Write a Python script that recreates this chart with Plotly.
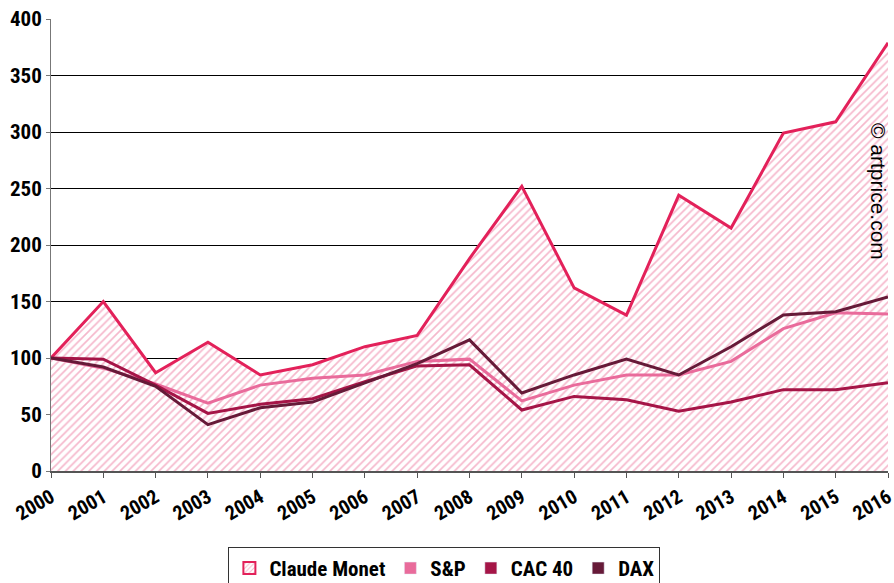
import plotly.graph_objects as go

years = list(range(2000, 2017))
monet = [100, 150, 87, 114, 85, 94, 110, 120, 188, 252, 162, 138, 244, 215, 299, 309, 379]
sp = [100, 91, 77, 60, 76, 82, 85, 97, 99, 62, 76, 85, 85, 97, 126, 140, 139]
cac = [100, 99, 76, 51, 59, 64, 79, 93, 94, 54, 66, 63, 53, 61, 72, 72, 78]
dax = [100, 92, 75, 41, 56, 61, 78, 95, 116, 69, 85, 99, 85, 110, 138, 141, 154]
yticks = [0, 50, 100, 150, 200, 250, 300, 350, 400]

C_MONET = "#e3215a"
C_HATCH = "#ec6f98"
C_SP = "#e96b9b"
C_CAC = "#a51547"
C_DAX = "#661a38"

FONT = "Liberation Sans Narrow, Roboto Condensed, Arial Narrow, Roboto, sans-serif"

fig = go.Figure()
fig.add_trace(go.Scatter(
    x=years, y=monet, mode="lines", fill="tozeroy",
    line=dict(color=C_MONET, width=3),
    fillcolor="white",
    fillpattern=dict(shape="/", fgcolor=C_HATCH, bgcolor="white", size=5.5, solidity=0.3),
    showlegend=False, name="Claude Monet"))
fig.add_trace(go.Scatter(x=years, y=sp, mode="lines", line=dict(color=C_SP, width=3), showlegend=False, name="S&P"))
fig.add_trace(go.Scatter(x=years, y=cac, mode="lines", line=dict(color=C_CAC, width=3), showlegend=False, name="CAC 40"))
fig.add_trace(go.Scatter(x=years, y=dax, mode="lines", line=dict(color=C_DAX, width=3), showlegend=False, name="DAX"))

# legend entries (square swatches)
fig.add_trace(go.Bar(x=[None], y=[None], name="Claude Monet",
                     marker=dict(color="white", line=dict(color=C_MONET, width=2),
                                 pattern=dict(shape="/", fgcolor=C_HATCH, bgcolor="white", size=4, solidity=0.3))))
fig.add_trace(go.Bar(x=[None], y=[None], name="S&P", marker=dict(color=C_SP)))
fig.add_trace(go.Bar(x=[None], y=[None], name="CAC 40", marker=dict(color=C_CAC)))
fig.add_trace(go.Bar(x=[None], y=[None], name="DAX", marker=dict(color=C_DAX)))

pw = 894 - 51 - 6
ph = 583 - 19 - 112
fig.add_annotation(x=(879 - 51) / pw, y=(471 - 191) / ph, xref="paper", yref="paper",
                   xanchor="center", yanchor="middle",
                   text="© artprice.com", showarrow=False, textangle=90,
                   font=dict(family="Liberation Sans, Arial, sans-serif", size=21, color="black"))

fig.update_layout(
    width=894, height=583,
    margin=dict(l=51, r=6, t=19, b=112, autoexpand=False),
    paper_bgcolor="white", plot_bgcolor="white",
    font=dict(family=FONT, size=20, color="black"),
    legend=dict(orientation="h", x=0.47, xanchor="center", y=-0.168, yanchor="top",
                bordercolor="#333333", borderwidth=1,
                font=dict(family=FONT, size=21, color="black", weight="bold"),
                itemwidth=30, tracegroupgap=0),
    xaxis=dict(range=[2000, 2016], tickmode="array", tickvals=years,
               ticktext=[str(y) for y in years], tickangle=-30, automargin=False,
               ticklabeloverflow="allow",
               showgrid=False, zeroline=False, showline=True, linecolor="#555555", linewidth=2,
               ticks="outside", ticklen=5, tickcolor="#555555",
               tickfont=dict(family=FONT, size=20, color="black", weight="bold")),
    yaxis=dict(range=[0, 400], tickmode="array", tickvals=yticks, automargin=False,
               ticklabeloverflow="allow",
               showgrid=True, gridcolor="black", gridwidth=1, zeroline=False,
               showline=True, linecolor="#777777", linewidth=1,
               ticks="outside", ticklen=4, tickcolor="#777777",
               tickfont=dict(family=FONT, size=21, color="black", weight="bold")),
)

fig.write_html("out.html", config={"displayModeBar": False},
               post_script="document.body.style.margin='0';document.body.style.overflow='hidden';")
